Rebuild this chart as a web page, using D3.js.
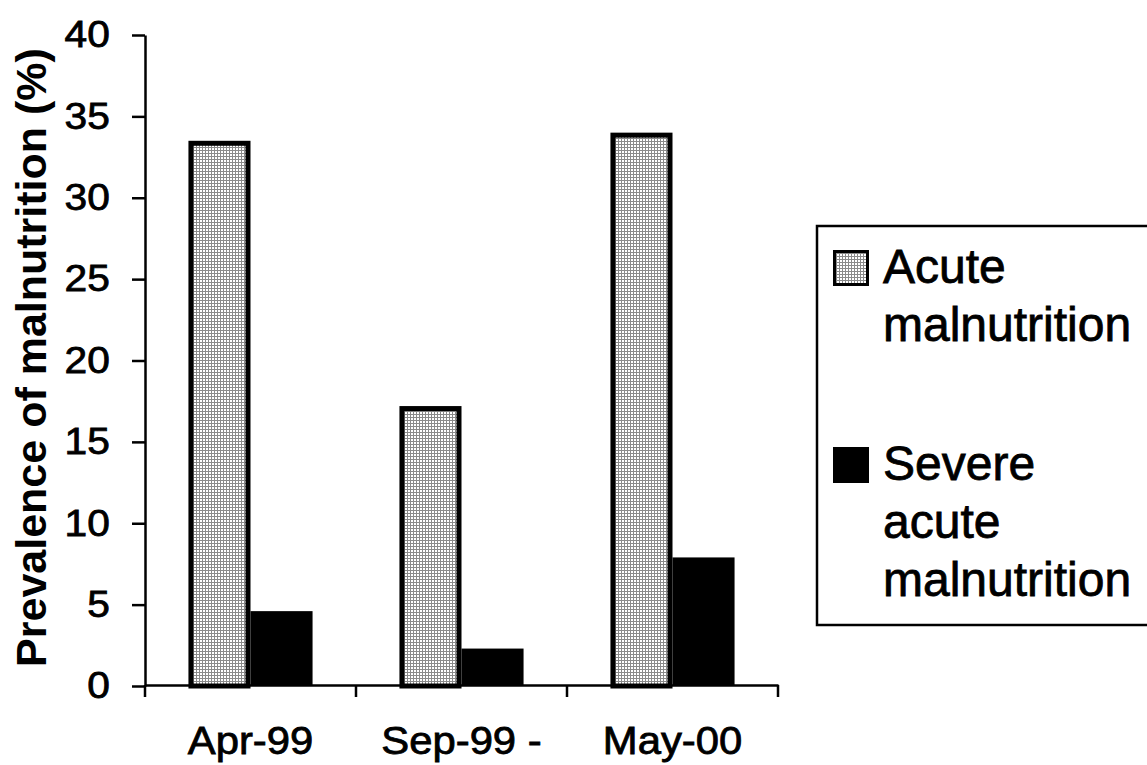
<!DOCTYPE html>
<html>
<head>
<meta charset="utf-8">
<script src="https://cdn.jsdelivr.net/npm/d3@7"></script>
<style>
  body { margin: 0; background: #fff; }
  text { font-family: "Liberation Sans", Arial, sans-serif; fill: #000; }
  /* the scan shows heavy glyphs, thicken the regular text a little */
  .heavy { stroke: #000; stroke-width: 0.8px; }
</style>
</head>
<body>
<div id="chart"></div>
<script>
// ******************************* DATA ****************************************
var categories = ["Apr-99", "Sep-99 -", "May-00"];
var seriesNames = ["Acute malnutrition", "Severe acute malnutrition"];
var acuteValues = [33.5, 17.2, 34.0];
var severeValues = [4.6, 2.3, 7.9];
var yTicks = [0, 5, 10, 15, 20, 25, 30, 35, 40];

// legend labels, one array of lines per series
var legendLines = [["Acute", "malnutrition"], ["Severe", "acute", "malnutrition"]];

// *************************** CANVAS SET UP ***********************************
var svgWidth = 1147,
    svgHeight = 765;

var plot = {left: 145, right: 778, top: 35, bottom: 686};

var svg = d3.select("#chart")
  .append("svg")
    .attr("width", svgWidth)
    .attr("height", svgHeight);

// dotted grey fill used for the acute bars
var defs = svg.append("defs");
var pattern = defs.append("pattern")
    .attr("id", "dots")
    .attr("patternUnits", "userSpaceOnUse")
    .attr("width", 3)
    .attr("height", 3);
pattern.append("rect").attr("width", 3).attr("height", 3).attr("fill", "#fff");
pattern.append("rect").attr("width", 3).attr("height", 1).attr("fill", "#8a8a8a");
pattern.append("rect").attr("width", 1).attr("height", 3).attr("fill", "#8a8a8a");

// ****************************** SCALES ***************************************
var x0 = d3.scaleBand()
    .domain(categories)
    .range([plot.left, plot.right])
    .padding(0);

var x1 = d3.scaleBand()
    .domain(seriesNames)
    .range([0, x0.bandwidth()])
    .paddingInner(0)
    .paddingOuter(0.7);

var y = d3.scaleLinear()
    .domain([0, 40])
    .range([plot.bottom, plot.top]);

// build rows for the bars
var rows = categories.map(function(c, i) {
  return {cat: c, values: [acuteValues[i], severeValues[i]]};
});

// ******************************* BARS ****************************************
var groups = svg.selectAll(".group")
  .data(rows)
  .enter()
  .append("g")
    .attr("class", "group")
    .attr("transform", d => `translate(${x0(d.cat)},0)`);

// acute bars: dotted fill with a heavy outline (stroke kept inside)
groups.append("rect")
    .attr("x", d => x1(seriesNames[0]) + 2.5)
    .attr("y", d => y(d.values[0]) + 2.5)
    .attr("width", x1.bandwidth() - 5)
    .attr("height", d => y(0) - y(d.values[0]) - 2.5)
    .attr("fill", "url(#dots)")
    .attr("stroke", "#000")
    .attr("stroke-width", 5);

// severe bars: solid black
groups.append("rect")
    .attr("x", d => x1(seriesNames[1]))
    .attr("y", d => y(d.values[1]))
    .attr("width", x1.bandwidth())
    .attr("height", d => y(0) - y(d.values[1]))
    .attr("fill", "#000");

// ******************************* AXES ****************************************
// y axis
var yAxis = d3.axisLeft(y)
    .tickValues(yTicks)
    .tickSize(13)
    .tickSizeOuter(0)
    .tickPadding(19);

var yAxisG = svg.append("g")
    .attr("transform", `translate(${plot.left},0)`)
    .call(yAxis);

yAxisG.select(".domain").attr("stroke-width", 2.5);
yAxisG.selectAll(".tick line").attr("stroke-width", 2.5);
yAxisG.selectAll(".tick text")
    .classed("heavy", true)
    .attr("font-size", 37)
    .attr("font-family", "Liberation Sans, Arial, sans-serif")
    .attr("transform", "scale(1.1,1)");

// x axis labels, centred under each category
var xAxis = d3.axisBottom(x0)
    .tickSize(0)
    .tickSizeOuter(0)
    .tickPadding(42);

var xAxisG = svg.append("g")
    .attr("transform", `translate(0,${plot.bottom - 1})`)
    .call(xAxis);

xAxisG.select(".domain").attr("stroke-width", 2.5);
xAxisG.selectAll(".tick text")
    .classed("heavy", true)
    .attr("font-size", 38)
    .attr("font-family", "Liberation Sans, Arial, sans-serif")
    .attr("transform", "scale(1.1,1)");

// tick marks at the category boundaries
var boundaries = categories.map(c => x0(c)).concat([x0.range()[1]]);
xAxisG.selectAll(".boundary")
  .data(boundaries)
  .enter()
  .append("line")
    .attr("class", "boundary")
    .attr("x1", d => d)
    .attr("x2", d => d)
    .attr("y1", 0)
    .attr("y2", 12)
    .attr("stroke", "#000")
    .attr("stroke-width", 2.5);

// y axis title
svg.append("text")
    .attr("transform", `translate(46,${(48 + 667) / 2}) rotate(-90)`)
    .attr("text-anchor", "middle")
    .attr("font-size", 43)
    .attr("font-weight", "bold")
    .text("Prevalence of malnutrition (%)");

// ****************************** LEGEND ***************************************
var legend = svg.append("g");

legend.append("rect")
    .attr("x", 817)
    .attr("y", 226)
    .attr("width", 360)
    .attr("height", 399)
    .attr("fill", "none")
    .attr("stroke", "#000")
    .attr("stroke-width", 2.5);

var legendTop = [250, 447];
var lineGap = 58;

legendLines.forEach(function(lines, i) {
  var item = legend.append("g")
      .attr("transform", `translate(833,${legendTop[i]})`);

  item.append("rect")
      .attr("x", i === 0 ? 1.5 : 0)
      .attr("y", i === 0 ? 1.5 : 0)
      .attr("width", i === 0 ? 33 : 36)
      .attr("height", i === 0 ? 33 : 36)
      .attr("fill", i === 0 ? "url(#dots)" : "#000")
      .attr("stroke", i === 0 ? "#000" : "none")
      .attr("stroke-width", 3);

  item.selectAll("text")
    .data(lines)
    .enter()
    .append("text")
      .attr("class", "heavy")
      .attr("x", 50)
      .attr("y", (d, j) => 33 + j * lineGap)
      .attr("font-size", 48)
      .text(d => d);
});
</script>
</body>
</html>
